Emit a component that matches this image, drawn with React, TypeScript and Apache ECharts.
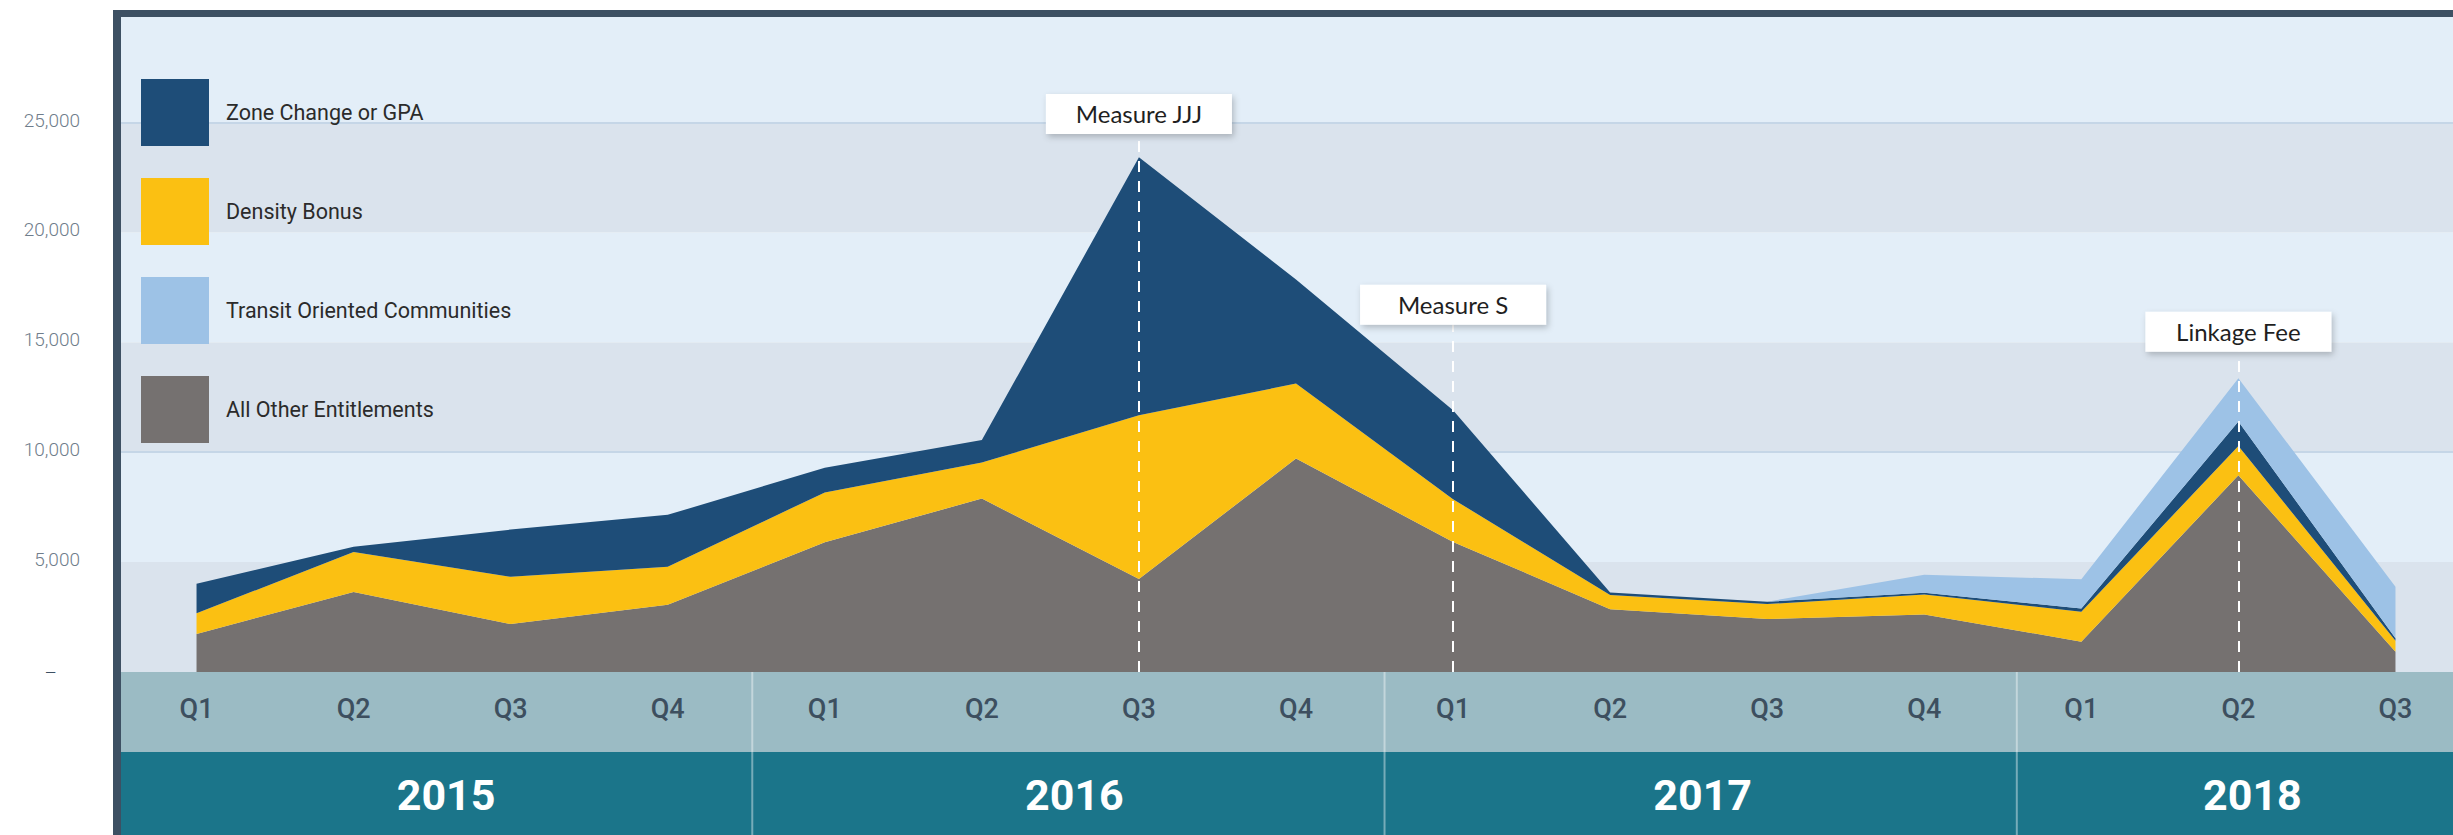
import { useEffect, useRef } from 'react';
import * as echarts from 'echarts';

const categories = [
  '2015 Q1', '2015 Q2', '2015 Q3', '2015 Q4',
  '2016 Q1', '2016 Q2', '2016 Q3', '2016 Q4',
  '2017 Q1', '2017 Q2', '2017 Q3', '2017 Q4',
  '2018 Q1', '2018 Q2', '2018 Q3',
];
const years = ['2015', '2016', '2017', '2018'];

const allOther = [1730, 3640, 2180, 3060, 5900, 7890, 4230, 9710, 5920, 2860, 2410, 2620, 1380, 8950, 920];
const densityBonus = [940, 1820, 2150, 1730, 2270, 1640, 7450, 3410, 1940, 640, 680, 910, 1360, 1330, 500];
const zoneChange = [1350, 240, 2150, 2360, 1120, 1020, 11740, 4740, 4050, 120, 110, 70, 150, 1120, 110];
const transitOriented = [0, 0, 0, 0, 0, 0, 0, 0, 0, 0, 0, 820, 1330, 1970, 2350];

const yTicks = [0, 5000, 10000, 15000, 20000, 25000];
const yMax = 29800;

const annotations = [
  { name: 'Measure JJJ', category: '2016 Q3', value: 24480 },
  { name: 'Measure S', category: '2017 Q1', value: 15800 },
  { name: 'Linkage Fee', category: '2018 Q2', value: 14570 },
];

const seriesNames = {
  zone: 'Zone Change or GPA',
  density: 'Density Bonus',
  toc: 'Transit Oriented Communities',
  other: 'All Other Entitlements',
};

const COLORS = {
  other: '#757170',
  density: '#FBC012',
  zone: '#1E4D78',
  toc: '#9DC2E6',
  bandGray: '#DAE3ED',
  bandLight: '#E3EEF8',
  frame: '#3D5063',
  qBand: '#9BBBC4',
  yearBand: '#1B758A',
};

export default function App() {
  const ref = useRef<HTMLDivElement>(null);

  useEffect(() => {
    document.body.style.margin = '0';
    if (!ref.current) return;
    const chart = echarts.init(ref.current, null, { renderer: 'svg' });
    const W = 2453;
    const H = 835;
    const gridTop = 17;
    const gridBottom = 163;
    const gridLeft = 118;

    const areaSeries = (name: string, data: number[], color: string, extra: any = {}) => ({
      name,
      type: 'line',
      stack: 'total',
      data,
      symbol: 'none',
      showSymbol: false,
      color,
      itemStyle: { color },
      lineStyle: { width: 0, color },
      areaStyle: { color, opacity: 1 },
      emphasis: { disabled: true },
      silent: true,
      ...extra,
    });

    chart.setOption({
      animation: false,
      grid: {
        left: gridLeft, width: 2356, top: gridTop, bottom: gridBottom,
        containLabel: false, outerBoundsMode: 'none',
      },
      legend: {
        orient: 'vertical',
        left: 141,
        top: 79,
        padding: 0,
        itemWidth: 68,
        itemHeight: 67,
        itemGap: 32,
        icon: 'rect',
        selectedMode: false,
        data: [seriesNames.zone, seriesNames.density, seriesNames.toc, seriesNames.other],
        textStyle: { fontFamily: 'Roboto', fontSize: 21.5, color: '#2b2b2b', padding: [0, 0, 0, 12] },
      },
      xAxis: {
        type: 'category',
        data: categories,
        boundaryGap: true,
        z: 10,
        axisLine: { show: false },
        axisTick: { show: false },
        splitLine: { show: false },
        axisLabel: {
          interval: 0,
          margin: 37,
          verticalAlign: 'middle',
          fontFamily: 'Roboto',
          fontWeight: 500,
          fontSize: 27,
          color: '#3D4F5F',
          formatter: (v: string) => v.split(' ')[1],
        },
      },
      yAxis: {
        type: 'value',
        min: 0,
        max: yMax,
        interval: 5000,
        axisLine: { show: false },
        axisTick: { show: false },
        axisLabel: {
          margin: 38,
          fontFamily: 'Roboto',
          fontWeight: 300,
          fontSize: 19,
          color: '#6F7D8B',
          padding: [0, 0, 5, 0],
          formatter: (v: number) => {
            if (!yTicks.includes(v)) return '';
            if (v === 0) return '{z|–}';
            return v.toLocaleString('en-US');
          },
          rich: { z: { color: COLORS.frame, fontSize: 19, padding: [5, 23, 0, 0] } },
        },
        splitLine: {
          show: true,
          lineStyle: { color: ['rgba(0,0,0,0)', 'rgba(0,0,0,0)', '#C5D6E7'], width: 2 },
        },
        splitArea: { show: true, areaStyle: { color: [COLORS.bandGray, COLORS.bandLight] } },
      },
      series: [
        areaSeries(seriesNames.other, allOther, COLORS.other),
        areaSeries(seriesNames.density, densityBonus, COLORS.density),
        areaSeries(seriesNames.zone, zoneChange, COLORS.zone),
        areaSeries(seriesNames.toc, transitOriented, COLORS.toc, {
          markLine: {
            silent: true,
            symbol: 'none',
            animation: false,
            lineStyle: { color: '#ffffff', width: 2, type: [11, 9], opacity: 1 },
            label: {
              show: true,
              position: 'end',
              distance: 0,
              formatter: '{b}',
              width: 126,
              align: 'center',
              backgroundColor: '#ffffff',
              color: '#1f1f1f',
              fontFamily: 'Lato',
              fontSize: 24,
              lineHeight: 22,
              padding: [9, 30, 9, 30],
              shadowColor: 'rgba(0,0,0,0.22)',
              shadowBlur: 6,
              shadowOffsetX: 2,
              shadowOffsetY: 3,
            },
            emphasis: { disabled: true },
            data: annotations.map((a) => [
              { name: a.name, coord: [a.category, 0] },
              { name: a.name, coord: [a.category, a.value] },
            ]),
          },
        }),
      ],
    });

    // Decorations: quarter band, year band, separators, frame
    const px = (i: number) => chart.convertToPixel({ xAxisIndex: 0 }, categories[i]) as number;
    const zeroY = chart.convertToPixel({ yAxisIndex: 0 }, 0) as number;
    const qBandBottom = zeroY + 80;
    const plotLeft = 121;
    const elements: any[] = [
      { type: 'rect', z: 1, silent: true, shape: { x: plotLeft, y: zeroY, width: W - plotLeft, height: qBandBottom - zeroY }, style: { fill: COLORS.qBand } },
      { type: 'rect', z: 1, silent: true, shape: { x: plotLeft, y: qBandBottom, width: W - plotLeft, height: H - qBandBottom }, style: { fill: COLORS.yearBand } },
    ];
    years.forEach((yr) => {
      const idx = categories.map((c, i) => (c.startsWith(yr) ? i : -1)).filter((i) => i >= 0);
      const f = idx[0];
      const l = idx[idx.length - 1];
      if (l < categories.length - 1) {
        const bx = (px(l) + px(l + 1)) / 2 + 3 + l;
        elements.push({
          type: 'line', z: 2, silent: true,
          shape: { x1: bx, y1: zeroY, x2: bx, y2: H },
          style: { stroke: 'rgba(255,255,255,0.4)', lineWidth: 2 },
        });
      }
      const cx = (px(f) + px(l)) / 2 + 14;
      elements.push({
        type: 'text', z: 3, silent: true,
        style: {
          text: yr, x: cx, y: (qBandBottom + H) / 2 + 1,
          align: 'center', verticalAlign: 'middle',
          fill: '#ffffff', fontFamily: 'Roboto', fontWeight: 'bold', fontSize: 43,
        },
      });
    });
    elements.push(
      { type: 'rect', z: 20, silent: true, shape: { x: 113, y: 10, width: 8, height: H - 10 }, style: { fill: COLORS.frame } },
      { type: 'rect', z: 20, silent: true, shape: { x: 113, y: 10, width: W - 113, height: 7 }, style: { fill: COLORS.frame } },
    );
    chart.setOption({ graphic: { elements } });

    return () => chart.dispose();
  }, []);

  return <div ref={ref} style={{ width: 2453, height: 835 }} />;
}
